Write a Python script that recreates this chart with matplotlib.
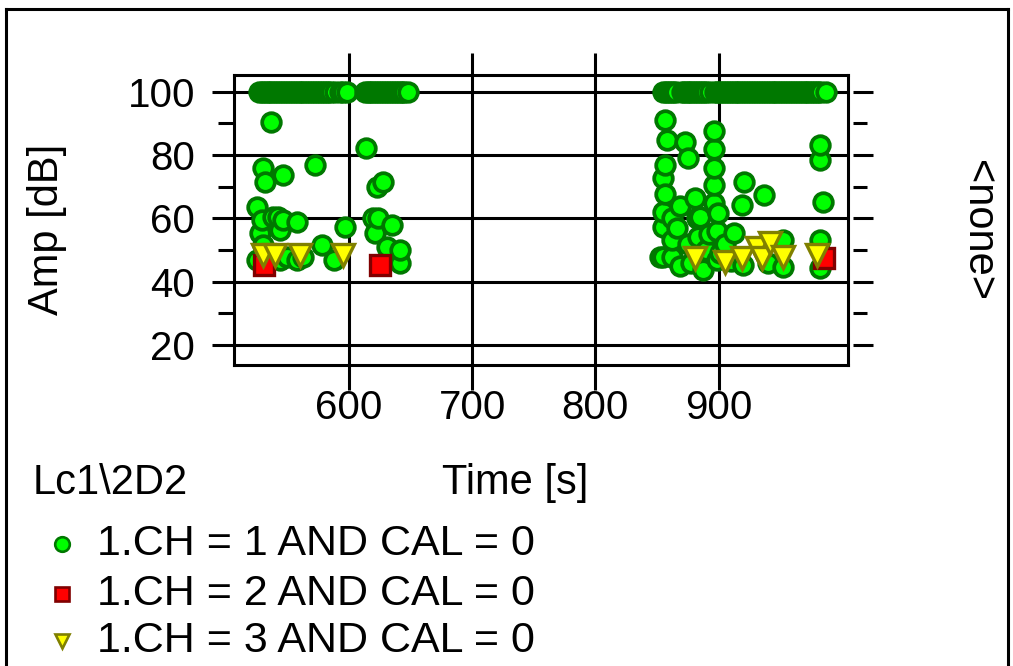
import matplotlib
matplotlib.use("Agg")
import matplotlib.pyplot as plt
from matplotlib.lines import Line2D
import matplotlib.transforms as mtransforms

plt.rcParams['font.family'] = ['Liberation Sans', 'DejaVu Sans']

# --- data (time [s], amplitude [dB]) ---
# CH = 1 : saturated hits at 100 dB (dense rows)
ch1_sat_time = [527, 529, 531, 533, 535, 537, 539, 541, 543, 545, 547, 549, 551, 553, 555,
                557, 559, 561, 563, 565, 567, 569, 571, 573, 575, 577, 579, 581, 583, 585,
                589, 593, 595, 598,
                613, 615, 617, 619, 621, 623, 625, 627, 629, 631, 633, 635, 637, 639, 641,
                643, 645, 648,
                855, 857, 859, 861, 863, 865.5, 870, 872, 874, 876, 878, 880, 882, 884, 886,
                888, 890, 893, 897, 899, 901, 903, 905, 907, 909, 911, 913, 915, 917, 919,
                921, 923, 925, 927, 929, 931, 933, 935, 937, 939, 941, 943, 945, 947, 949,
                951, 953, 955, 957, 959, 961, 963, 965, 967, 969, 971, 973, 975, 977, 979,
                981, 983, 987]
ch1_sat_amp = [100] * len(ch1_sat_time)

# CH = 1 : other hits
ch1_time = [536.7, 613.5, 572.4, 530.4, 546.7, 531.8, 627.9, 622.5, 525.1, 529.1,
            538.6, 542.6, 546.7, 557.5, 596.8, 619.7, 623.8, 634.7, 621.1, 527.7,
            544.0, 577.8, 530.4, 630.6, 641.4, 562.9, 549.4, 525.1, 544.0, 557.5,
            641.4, 588.0,
            856.6, 896.5, 858.0, 872.8, 896.5, 874.9, 856.6, 896.5, 855.3, 896.5,
            920.8, 856.6, 880.9, 936.5, 896.5, 918.8, 868.7, 855.3, 899.9, 882.2,
            884.9, 862.0, 855.3, 898.5, 912.8, 883.0, 862.0, 952.6, 982.4, 855.3,
            862.0, 901.2, 887.7, 898.5, 920.1, 952.6, 982.4, 982.4, 982.4, 985.1,
            852.5, 866.0, 875.0, 890.0, 878.0, 905.0, 869.0, 892.0, 910.0, 940.0]
ch1_amp = [90.5, 82.1, 76.9, 75.8, 73.7, 71.6, 71.6, 70.0, 63.7, 59.5,
           60.5, 60.5, 59.5, 59.0, 57.4, 60.0, 60.0, 57.9, 55.3, 55.3,
           56.3, 51.6, 51.6, 51.1, 50.0, 47.9, 47.9, 46.9, 46.9, 46.9,
           45.8, 47.0,
           91.1, 87.7, 84.7, 84.2, 81.9, 79.0, 76.9, 76.0, 72.7, 70.5,
           71.4, 67.6, 66.5, 67.4, 64.8, 64.2, 64.0, 62.1, 61.8, 60.0,
           60.5, 60.0, 57.4, 56.0, 55.3, 54.2, 53.2, 53.2, 53.2, 47.9,
           47.9, 49.0, 43.7, 46.9, 45.3, 44.7, 44.2, 83.2, 78.4, 65.3,
           47.9, 57.0, 52.0, 50.0, 46.0, 52.0, 45.0, 55.0, 46.5, 46.0]

# CH = 2
ch2_time = [530.6, 624.8, 985.6]
ch2_amp = [45.3, 45.3, 47.4]

# CH = 3
ch3_time = [530.2, 540.0, 560.2, 595.4,
            880.9, 905.3, 918.8, 931.0, 935.0, 941.8, 952.6, 979.7]
ch3_amp = [48.5, 48.5, 48.5, 48.5,
           47.4, 46.3, 47.4, 50.5, 47.4, 52.1, 47.9, 48.4]

x_ticks = [600, 700, 800, 900]
y_ticks = [20, 40, 60, 80, 100]
y_minor = [30, 50, 70, 90]

legend_labels = ["1.CH = 1 AND CAL = 0", "1.CH = 2 AND CAL = 0", "1.CH = 3 AND CAL = 0"]

W, H = 1013, 666
fig = plt.figure(figsize=(W / 100, H / 100), dpi=100)
fig.patch.set_facecolor("white")


def fx(px):
    return px / W


def fy(py):
    return 1 - py / H


ax_l, ax_r, ax_t, ax_b = 234, 848, 75, 365
ax = fig.add_axes([fx(ax_l), fy(ax_b), (ax_r - ax_l) / W, (ax_b - ax_t) / H])
ax.set_xlim(506.6, 1005.1)
ax.set_ylim(13.7, 105.3)

lw = 2.2
for s in ax.spines.values():
    s.set_linewidth(lw)
    s.set_color("black")

# grid lines and outside ticks (drawn by hand, they stick out of the box)
aw = ax_r - ax_l
ah = ax_b - ax_t
tv = mtransforms.blended_transform_factory(ax.transData, ax.transAxes)
th = mtransforms.blended_transform_factory(ax.transAxes, ax.transData)
for xv in x_ticks:
    ax.plot([xv, xv], [-(390 - ax_b) / ah, 1 + (ax_t - 53) / ah], color="black",
            lw=lw, transform=tv, clip_on=False, zorder=1, solid_capstyle="butt")
for yv in y_ticks:
    ax.plot([-(ax_l - 212) / aw, 1], [yv, yv], color="black", lw=lw,
            transform=th, clip_on=False, zorder=1, solid_capstyle="butt")
    ax.plot([1 + 5 / aw, 1 + 25 / aw], [yv, yv], color="black", lw=lw,
            transform=th, clip_on=False, zorder=1, solid_capstyle="butt")
for yv in y_minor:
    ax.plot([-(ax_l - 218) / aw, 0], [yv, yv], color="black", lw=lw,
            transform=th, clip_on=False, zorder=1, solid_capstyle="butt")
    ax.plot([1 + 5 / aw, 1 + 19 / aw], [yv, yv], color="black", lw=lw,
            transform=th, clip_on=False, zorder=1, solid_capstyle="butt")

ax.set_xticks(x_ticks)
ax.set_yticks(y_ticks)
ax.tick_params(length=0, labelsize=29)
ax.tick_params(axis="y", pad=28)
ax.tick_params(axis="x", pad=17)

# markers
green_pts = sorted(zip(ch1_time + ch1_sat_time, ch1_amp + ch1_sat_amp))
for t, a in green_pts:
    ax.plot(t, a, "o", ms=13.4, mfc="#00ff00", mec="#007800", mew=2.7, zorder=3)
ax.plot(ch2_time, ch2_amp, "s", ms=14.4, mfc="#ff0000", mec="#800000", mew=2.4,
        ls="none", zorder=4)
ax.plot(ch3_time, ch3_amp, "v", ms=15.5, mfc="#ffff00", mec="#808000", mew=2.4,
        ls="none", zorder=5)

# texts
fs = 30
fig.text(fx(47), fy(229), "Amp [dB]", rotation=90, fontsize=fs, ha="center", va="center")
fig.text(fx(978), fy(230), "<none>", rotation=270, fontsize=fs, ha="center", va="center")
fig.text(fx(515), fy(483), "Time [s]", fontsize=fs, ha="center", va="center")
fig.text(fx(33), fy(483), "Lc1\\2D2", fontsize=fs, ha="left", va="center")

leg_y = [544, 594, 641]
leg_style = [dict(marker="o", mfc="#00ff00", mec="#007800"),
             dict(marker="s", mfc="#ff0000", mec="#800000"),
             dict(marker="v", mfc="#ffff00", mec="#808000")]
for yy, lab, st in zip(leg_y, legend_labels, leg_style):
    fig.add_artist(Line2D([fx(62)], [fy(yy)], ms=10.5, mew=1.9, ls="none",
                          transform=fig.transFigure, **st))
    fig.text(fx(97), fy(yy), lab, fontsize=31, ha="left", va="center")

# outer frame
frame = dict(color="black", lw=2.2, transform=fig.transFigure)
fig.add_artist(Line2D([fx(6), fx(6)], [fy(9), 0], **frame))
fig.add_artist(Line2D([fx(6), fx(1008)], [fy(9), fy(9)], **frame))
fig.add_artist(Line2D([fx(1008), fx(1008)], [fy(9), 0], **frame))

fig.savefig("out.png", dpi=100)
